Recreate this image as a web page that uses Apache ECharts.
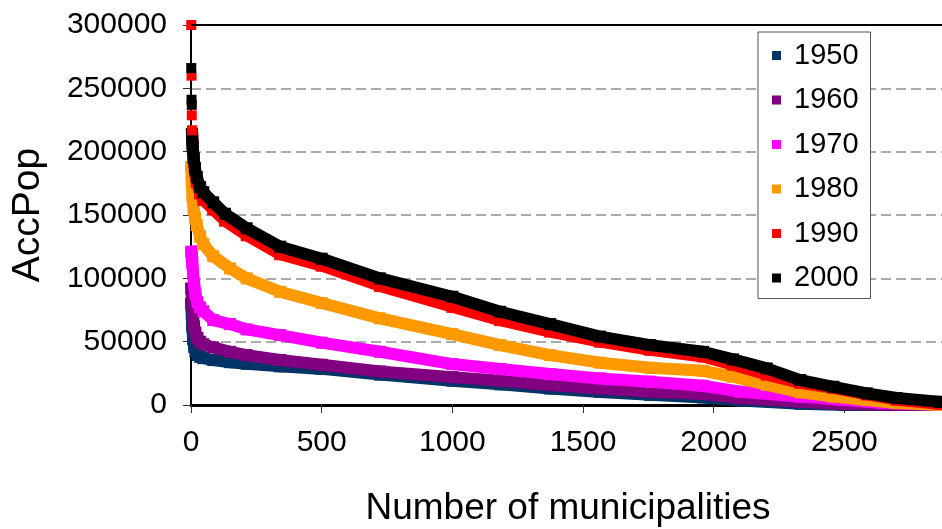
<!DOCTYPE html>
<html>
<head>
<meta charset="utf-8">
<script src="https://cdn.jsdelivr.net/npm/echarts@6/dist/echarts.min.js"></script>
<style>
html,body{margin:0;padding:0;background:#fff;}
#chart{width:942px;height:529px;}
</style>
</head>
<body>
<div id="chart"></div>
<script>
// ---- data ----
var years = ['1950', '1960', '1970', '1980', '1990', '2000'];
var colors = ['#003366', '#800080', '#FF00FF', '#FF9900', '#FF0000', '#000000'];
var xTicks = [0, 500, 1000, 1500, 2000, 2500];
var yTicks = [0, 50000, 100000, 150000, 200000, 250000, 300000];

var s1950 = [[1,80000],[3,72000],[5,62000],[8,52000],[12,46000],[17,42000],[25,39500],[35,38000],[47,37000],[85,35500],[149,33800],[213,32500],[341,30500],[500,28500],[723,24000],[1000,19200],[1183,16300],[1374,13000],[1565,10300],[1757,8000],[1959,6000],[2100,3500],[2331,1000],[2500,0],[2866,0]];
var s1960 = [[1,92000],[3,88000],[5,80000],[8,70000],[12,62000],[17,57000],[25,53000],[35,50000],[47,48000],[85,45500],[149,42000],[213,39400],[341,35500],[500,31800],[723,26500],[1000,22000],[1183,19200],[1374,15800],[1565,13100],[1757,10500],[1959,8700],[2100,5300],[2331,2500],[2500,600],[2700,0],[2866,0]];
var s1970 = [[1,121000],[3,118000],[5,112000],[8,104000],[12,96000],[17,88000],[25,81000],[35,77000],[47,74000],[85,67000],[149,63900],[213,59700],[341,55200],[500,49200],[723,42000],[1000,32300],[1183,28400],[1374,24400],[1565,21000],[1757,18400],[1959,15200],[2100,10500],[2331,6600],[2500,3900],[2650,1500],[2866,0]];
var s1980 = [[1,188000],[3,176000],[6,164000],[10,155000],[15,148000],[22,142000],[35,133000],[47,127000],[85,117500],[149,107800],[213,100000],[341,89400],[500,80500],[723,68400],[1000,56000],[1183,47300],[1374,39400],[1565,33400],[1757,29400],[1959,27000],[2074,22300],[2203,15800],[2331,10000],[2458,6600],[2586,3900],[2700,1500],[2866,0]];
var s1990 = [[5,210000],[7,203000],[10,195000],[15,185000],[22,176000],[35,167000],[47,162000],[85,154500],[130,145500],[213,134000],[341,119000],[500,110000],[723,94000],[1000,77500],[1183,67000],[1374,58000],[1565,50000],[1757,43600],[1959,38300],[2074,31800],[2203,24000],[2331,17500],[2458,13500],[2586,8300],[2700,4200],[2866,1000]];
var s2000 = [[4,214000],[6,205000],[10,195000],[15,187000],[22,180000],[35,172000],[47,168000],[85,160000],[130,151000],[213,139500],[341,125000],[500,115500],[723,100000],[1000,85500],[1183,73600],[1374,63900],[1565,54000],[1757,47300],[1959,42000],[2074,36000],[2203,28900],[2331,19700],[2458,14400],[2586,9200],[2700,5500],[2866,2500]];
// largest municipalities, drawn as separate squares
var top1990 = [[1,300000],[2,260000],[3,228700],[4,216900]];
var top2000 = [[1,266000],[2,241000],[3,237000]];

var lines = [s1950, s1960, s1970, s1980, s1990, s2000];

// ---- chart ----
var FONT = "'Liberation Sans', Arial, sans-serif";
var X_MAX = 2885;
var chart = echarts.init(document.getElementById('chart'), null, {renderer: 'canvas'});

var series = [];
lines.forEach(function (d, i) {
  series.push({
    name: years[i],
    type: 'line',
    data: d,
    color: colors[i],
    symbol: 'rect',
    symbolSize: 12,
    showSymbol: true,
    showAllSymbol: true,
    lineStyle: {width: 12, color: colors[i], cap: 'square', join: 'round'},
    itemStyle: {color: colors[i], opacity: 1},
    animation: false,
    emphasis: {disabled: true},
    z: 2 + i
  });
});
series.push({name: '1990', type: 'scatter', data: top1990, symbol: 'rect', symbolSize: 10,
  itemStyle: {color: '#FF0000', opacity: 1}, animation: false, z: 10});
series.push({name: '2000', type: 'scatter', data: top2000, symbol: 'rect', symbolSize: 10,
  itemStyle: {color: '#000000', opacity: 1}, animation: false, z: 11});

chart.setOption({
  animation: false,
  backgroundColor: '#ffffff',
  textStyle: {fontFamily: FONT},
  grid: {left: 191, right: -3, top: 25, bottom: 124, containLabel: false,
    outerBoundsMode: 'none', show: false},
  legend: {
    orient: 'vertical',
    left: 758, top: 32,
    data: years.map(function (y, i) {
      return {name: y, icon: 'rect', itemStyle: {color: colors[i]}};
    }),
    itemWidth: 9, itemHeight: 9,
    itemGap: 15.5,
    padding: [9, 12, 6, 14],
    backgroundColor: '#fff',
    borderColor: '#555',
    borderWidth: 1,
    selectedMode: false,
    z: 20,
    textStyle: {fontFamily: FONT, fontSize: 29, color: '#000', padding: [0, 0, 0, 8]}
  },
  xAxis: {
    type: 'value',
    min: 0, max: X_MAX, interval: 500,
    name: 'Number of municipalities',
    nameLocation: 'middle',
    nameGap: 85,
    nameTextStyle: {fontFamily: FONT, fontSize: 37, color: '#000'},
    axisLine: {show: true, onZero: false, lineStyle: {color: '#000', width: 3}},
    axisTick: {show: true, length: 8, lineStyle: {color: '#333', width: 1}},
    axisLabel: {fontFamily: FONT, fontSize: 30, color: '#000', margin: 23,
      showMaxLabel: false,
      formatter: function (v) { return xTicks.indexOf(v) >= 0 ? String(v) : ''; }},
    splitLine: {show: false}
  },
  yAxis: {
    type: 'value',
    min: 0, max: 300000, interval: 50000,
    name: 'AccPop',
    nameLocation: 'middle',
    nameGap: 143,
    nameTextStyle: {fontFamily: FONT, fontSize: 39, color: '#000'},
    axisLine: {show: true, onZero: false, lineStyle: {color: '#000', width: 2}},
    axisTick: {show: true, length: 8, lineStyle: {color: '#333', width: 1}},
    axisLabel: {fontFamily: FONT, fontSize: 30, color: '#000', margin: 24,
      formatter: function (v) { return yTicks.indexOf(v) >= 0 ? String(v) : ''; }},
    splitLine: {show: true, showMinLine: false, showMaxLine: false,
      lineStyle: {color: '#aaaaaa', width: 2, type: [10, 5]}}
  },
  series: series
});

// top frame of the plot area, positioned through the chart's own scales
var yTop = yTicks[yTicks.length - 1];
var pA = chart.convertToPixel({gridIndex: 0}, [0, yTop]);
var pB = chart.convertToPixel({gridIndex: 0}, [X_MAX, yTop]);
chart.setOption({
  graphic: [{
    type: 'line', z: 50, silent: true,
    shape: {x1: pA[0], y1: pA[1], x2: pB[0], y2: pB[1]},
    style: {stroke: '#000', lineWidth: 2}
  }]
});
</script>
</body>
</html>
